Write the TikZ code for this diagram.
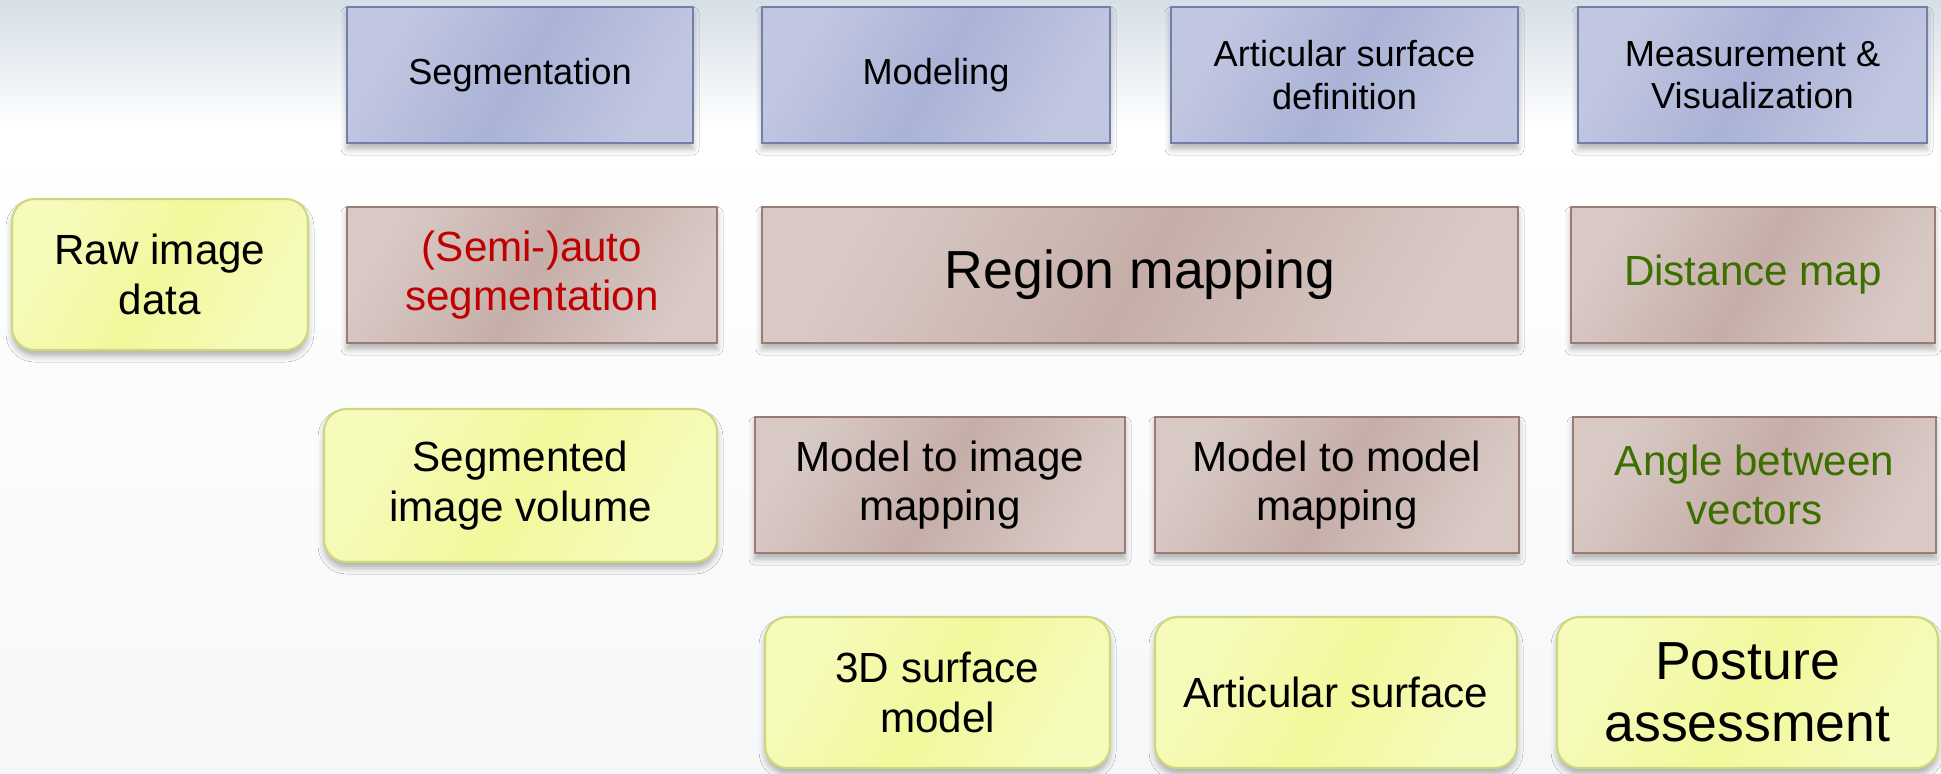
\documentclass[tikz,border=0pt]{standalone}
\usepackage{fontspec}
\setmainfont{Liberation Sans}
\usepackage{xcolor}
\usetikzlibrary{shadows.blur}

\definecolor{phaseedge}{HTML}{7180AA}
\definecolor{phaselight}{HTML}{C2C7E1}
\definecolor{phasedark}{HTML}{AAB3D7}
\definecolor{methodedge}{HTML}{9A7C74}
\definecolor{methodlight}{HTML}{D8C9C5}
\definecolor{methoddark}{HTML}{C6AEA8}
\definecolor{dataedge}{HTML}{CFD77C}
\definecolor{datalight}{HTML}{F6FABB}
\definecolor{datadark}{HTML}{F2F89C}
\definecolor{autored}{HTML}{C00000}
\definecolor{measgreen}{HTML}{3B6F00}
\definecolor{bgtop}{HTML}{D6DFE7}
\definecolor{bgbottom}{HTML}{F5F7F9}

\tikzset{
  box/.style={draw, line width=1.2pt, align=center, inner sep=0pt, minimum height=2.72cm,
    blur shadow={shadow xshift=0pt, shadow yshift=-0.12cm, shadow blur radius=0.12cm, shadow opacity=30}},
  phase/.style={box, draw=phaseedge, left color=phaselight, right color=phaselight, middle color=phasedark,
    shading angle=60, font=\fontsize{20.6}{24}\selectfont},
  method/.style={box, draw=methodedge, left color=methodlight, right color=methodlight, middle color=methoddark,
    shading angle=60, font=\fontsize{24}{28}\selectfont},
  data/.style={box, draw=dataedge, rounded corners=0.45cm, minimum height=3.02cm, left color=datalight,
    right color=datalight, middle color=datadark, shading angle=60, font=\fontsize{24}{28}\selectfont},
  big/.style={font=\fontsize{30.5}{35}\selectfont}
}

\begin{document}
\begin{tikzpicture}

  % background
  \useasboundingbox (0,0) rectangle (38.82,-15.46);
  \shade[top color=white, bottom color=bgbottom] (0,-2.6) rectangle (38.82,-15.46);
  \shade[top color=bgtop, bottom color=white] (0,0) rectangle (38.82,-2.6);

  % phases
  \node[phase, minimum width=6.92cm] (seg) at (10.40,-1.50) {Segmentation};
  \node[phase, minimum width=6.96cm] (model) at (18.72,-1.50) {Modeling};
  \node[phase, minimum width=6.94cm] (artdef) at (26.89,-1.50) {Articular surface\\definition};
  \node[phase, minimum width=6.98cm] (meas) at (35.05,-1.50) {Measurement \&\\Visualization};

  % second row
  \node[data, minimum width=5.92cm] (raw) at (3.20,-5.49) {Raw image\\data};
  \node[method, minimum width=7.40cm, text=autored] (autoseg) at (10.64,-5.50) {(Semi-)auto\\segmentation};
  \node[method, big, minimum width=15.12cm] (region) at (22.80,-5.50) {Region mapping};
  \node[method, minimum width=7.28cm, text=measgreen] (dist) at (35.06,-5.50) {Distance map};

  % third row
  \node[data, minimum width=7.86cm, minimum height=3.06cm] (segvol) at (10.41,-9.71) {Segmented\\image volume};
  \node[method, minimum width=7.40cm] (mtoi) at (18.80,-9.70) {Model to image\\mapping};
  \node[method, minimum width=7.28cm] (mtom) at (26.74,-9.70) {Model to model\\mapping};
  \node[method, minimum width=7.26cm, text=measgreen] (angle) at (35.09,-9.70) {Angle between\\vectors};

  % results
  \node[data, minimum width=6.90cm] (surf) at (18.75,-13.85) {3D surface\\model};
  \node[data, minimum width=7.24cm] (artsurf) at (26.72,-13.85) {Articular surface};
  \node[data, big, minimum width=7.62cm] (posture) at (34.95,-13.85) {Posture\\assessment};

\end{tikzpicture}
\end{document}
